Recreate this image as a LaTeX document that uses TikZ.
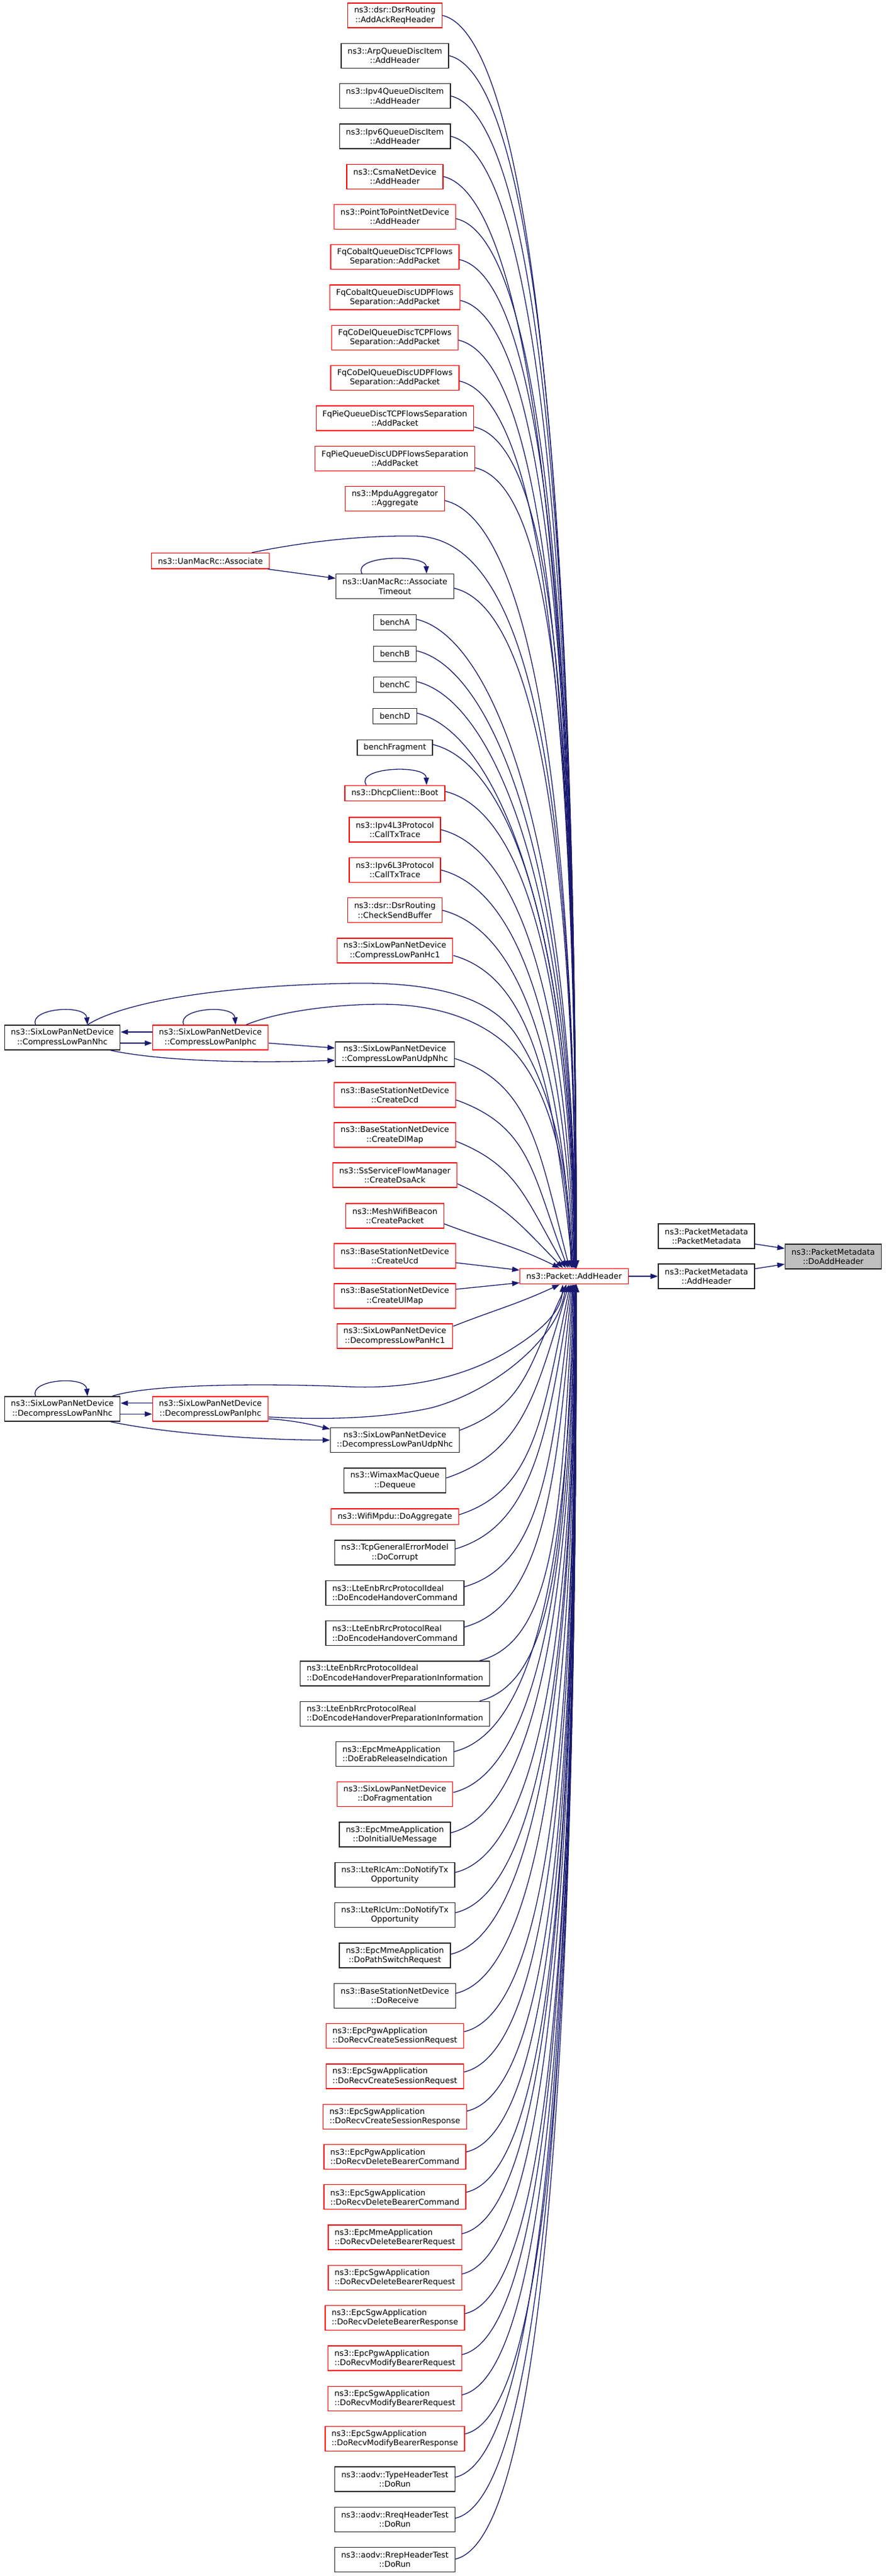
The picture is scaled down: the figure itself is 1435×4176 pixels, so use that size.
\documentclass[tikz,border=0pt]{standalone}
\usepackage{fontspec}
\setmainfont{DejaVu Sans}
\usetikzlibrary{arrows.meta,calc}
\definecolor{mblue}{HTML}{191970}
\definecolor{kcol}{HTML}{262626}
\definecolor{rcol}{HTML}{FF0000}
\definecolor{hfill}{HTML}{BFBFBF}
\tikzset{
 nd/.style={draw, line width=1.3pt, fill=white, inner xsep=10.5pt, inner ysep=0pt,
   minimum height=40pt, align=center, font=\fontsize{12.9}{15.2}\selectfont},
 rb/.style={nd, draw=rcol},
 kb/.style={nd, draw=kcol},
 oneln/.style={minimum height=25.5pt},
 lft/.style={align=left},
 cline/.style={draw=mblue, line width=1.3pt, -{Triangle[length=12pt,width=8.5pt]}},
}
% caller -> Packet::AddHeader ; #1 start anchor, #2 offset, #3 sign (1 above, -1 below), #4 target anchor
\newcommand\toPA[4]{%
\draw[cline] let \p1=($(#1)+(#2)$), \p2=(#4),
 \n1={abs(\y1-\y2)},
 \n2={\x2+58+34*(1-exp(-\n1/300))},
 \n3={veclen(\n2-\x1,\n1)},
 \n4={atan2(\n2-\x1,\n1)},
 \n5={min(90-\n4,13+20*exp(-\n1/250))},
 \n6={min(130,0.4*\n3)},
 \n7={min(\n4,95*exp(-\n1/180))},
 \n8={\n3*(0.4+0.3*(1-exp(-\n1/700)))}
 in (\p1) .. controls ({\x1+\n6*cos(\n5)*1pt},{\y1-(#3)*\n6*sin(\n5)*1pt})
 and ({\n2*1pt-\n8*sin(\n7)*1pt},{\y2+(#3)*\n8*cos(\n7)*1pt}) .. ({\n2*1pt},\y2);
}
\begin{document}
\begin{tikzpicture}[x=1pt,y=-1pt]
\useasboundingbox (0,0) rectangle (1435,4176);
\fill[white] (0,0) rectangle (1435,4176);

% middle column
\node[rb] (n1) at (640,25) {ns3::dsr::DsrRouting\\::AddAckReqHeader};
\node[kb] (n2) at (640,90.3) {ns3::ArpQueueDiscItem\\::AddHeader};
\node[kb] (n3) at (640,155.6) {ns3::Ipv4QueueDiscItem\\::AddHeader};
\node[kb] (n4) at (640,220.9) {ns3::Ipv6QueueDiscItem\\::AddHeader};
\node[rb] (n5) at (640,286.2) {ns3::CsmaNetDevice\\::AddHeader};
\node[rb] (n6) at (640,351.5) {ns3::PointToPointNetDevice\\::AddHeader};
\node[rb] (n7) at (640,416.8) {FqCobaltQueueDiscTCPFlows\\Separation::AddPacket};
\node[rb] (n8) at (640,482.1) {FqCobaltQueueDiscUDPFlows\\Separation::AddPacket};
\node[rb] (n9) at (640,547.4) {FqCoDelQueueDiscTCPFlows\\Separation::AddPacket};
\node[rb] (n10) at (640,612.7) {FqCoDelQueueDiscUDPFlows\\Separation::AddPacket};
\node[rb] (n11) at (640,678) {FqPieQueueDiscTCPFlowsSeparation\\::AddPacket};
\node[rb] (n12) at (640,743.3) {FqPieQueueDiscUDPFlowsSeparation\\::AddPacket};
\node[rb] (n13) at (640,808.6) {ns3::MpduAggregator\\::Aggregate};
\node[rb,oneln] (assoc) at (341,909.2) {ns3::UanMacRc::Associate};
\node[kb] (n14) at (640,950.6) {ns3::UanMacRc::Associate\\Timeout};
\node[kb,oneln] (n15) at (640,1009) {benchA};
\node[kb,oneln] (n16) at (640,1060) {benchB};
\node[kb,oneln] (n17) at (640,1110) {benchC};
\node[kb,oneln] (n18) at (640,1161) {benchD};
\node[kb,oneln] (n19) at (640,1212) {benchFragment};
\node[rb,oneln] (n20) at (640,1286) {ns3::DhcpClient::Boot};
\node[rb] (n21) at (640,1345) {ns3::Ipv4L3Protocol\\::CallTxTrace};
\node[rb] (n22) at (640,1410.3) {ns3::Ipv6L3Protocol\\::CallTxTrace};
\node[rb] (n23) at (640,1475.6) {ns3::dsr::DsrRouting\\::CheckSendBuffer};
\node[rb] (n24) at (640,1540.9) {ns3::SixLowPanNetDevice\\::CompressLowPanHc1};
\node[kb] (cnhc) at (101,1682) {ns3::SixLowPanNetDevice\\::CompressLowPanNhc};
\node[rb] (ciphc) at (341,1682) {ns3::SixLowPanNetDevice\\::CompressLowPanIphc};
\node[kb] (n25) at (640,1709) {ns3::SixLowPanNetDevice\\::CompressLowPanUdpNhc};
\node[rb] (n26) at (640,1775) {ns3::BaseStationNetDevice\\::CreateDcd};
\node[rb] (n27) at (640,1840) {ns3::BaseStationNetDevice\\::CreateDlMap};
\node[rb] (n28) at (640,1905) {ns3::SsServiceFlowManager\\::CreateDsaAck};
\node[rb] (n29) at (640,1971) {ns3::MeshWifiBeacon\\::CreatePacket};
\node[rb] (n30) at (640,2036) {ns3::BaseStationNetDevice\\::CreateUcd};
\node[rb] (n31) at (640,2101) {ns3::BaseStationNetDevice\\::CreateUlMap};
\node[rb] (n32) at (640,2166) {ns3::SixLowPanNetDevice\\::DecompressLowPanHc1};
\node[kb] (dnhc) at (101,2284) {ns3::SixLowPanNetDevice\\::DecompressLowPanNhc};
\node[rb] (diphc) at (341,2284) {ns3::SixLowPanNetDevice\\::DecompressLowPanIphc};
\node[kb] (n33) at (640,2334.6) {ns3::SixLowPanNetDevice\\::DecompressLowPanUdpNhc};
\node[kb] (n34) at (640,2400) {ns3::WimaxMacQueue\\::Dequeue};
\node[rb,oneln] (n35) at (640,2458.6) {ns3::WifiMpdu::DoAggregate};
\node[kb] (n36) at (640,2517) {ns3::TcpGeneralErrorModel\\::DoCorrupt};
\node[kb,lft] (n37) at (640,2582.3) {ns3::LteEnbRrcProtocolIdeal\\::DoEncodeHandoverCommand};
\node[kb,lft] (n38) at (640,2647.6) {ns3::LteEnbRrcProtocolReal\\::DoEncodeHandoverCommand};
\node[kb,lft] (n39) at (640,2712.9) {ns3::LteEnbRrcProtocolIdeal\\::DoEncodeHandoverPreparationInformation};
\node[kb,lft] (n40) at (640,2778.2) {ns3::LteEnbRrcProtocolReal\\::DoEncodeHandoverPreparationInformation};
\node[kb,lft] (n41) at (640,2843.5) {ns3::EpcMmeApplication\\::DoErabReleaseIndication};
\node[rb] (n42) at (640,2908.8) {ns3::SixLowPanNetDevice\\::DoFragmentation};
\node[kb] (n43) at (640,2974.1) {ns3::EpcMmeApplication\\::DoInitialUeMessage};
\node[kb] (n44) at (640,3039.4) {ns3::LteRlcAm::DoNotifyTx\\Opportunity};
\node[kb] (n45) at (640,3104.7) {ns3::LteRlcUm::DoNotifyTx\\Opportunity};
\node[kb] (n46) at (640,3170) {ns3::EpcMmeApplication\\::DoPathSwitchRequest};
\node[kb] (n47) at (640,3235.3) {ns3::BaseStationNetDevice\\::DoReceive};
\node[rb,lft] (n48) at (640,3300.6) {ns3::EpcPgwApplication\\::DoRecvCreateSessionRequest};
\node[rb,lft] (n49) at (640,3365.9) {ns3::EpcSgwApplication\\::DoRecvCreateSessionRequest};
\node[rb,lft] (n50) at (640,3431.2) {ns3::EpcSgwApplication\\::DoRecvCreateSessionResponse};
\node[rb,lft] (n51) at (640,3496.5) {ns3::EpcPgwApplication\\::DoRecvDeleteBearerCommand};
\node[rb,lft] (n52) at (640,3561.8) {ns3::EpcSgwApplication\\::DoRecvDeleteBearerCommand};
\node[rb,lft] (n53) at (640,3627.1) {ns3::EpcMmeApplication\\::DoRecvDeleteBearerRequest};
\node[rb,lft] (n54) at (640,3692.4) {ns3::EpcSgwApplication\\::DoRecvDeleteBearerRequest};
\node[rb,lft] (n55) at (640,3757.7) {ns3::EpcSgwApplication\\::DoRecvDeleteBearerResponse};
\node[rb,lft] (n56) at (640,3823) {ns3::EpcPgwApplication\\::DoRecvModifyBearerRequest};
\node[rb,lft] (n57) at (640,3888.3) {ns3::EpcSgwApplication\\::DoRecvModifyBearerRequest};
\node[rb,lft] (n58) at (640,3953.6) {ns3::EpcSgwApplication\\::DoRecvModifyBearerResponse};
\node[kb] (n59) at (640,4018.9) {ns3::aodv::TypeHeaderTest\\::DoRun};
\node[kb] (n60) at (640,4084.2) {ns3::aodv::RreqHeaderTest\\::DoRun};
\node[kb] (n61) at (640,4149.5) {ns3::aodv::RrepHeaderTest\\::DoRun};

% right part
\node[rb,oneln] (pa) at (930.5,2069) {ns3::Packet::AddHeader};
\node[kb] (pmc) at (1145,2004) {ns3::PacketMetadata\\::PacketMetadata};
\node[kb] (pma) at (1145,2069) {ns3::PacketMetadata\\::AddHeader};
\node[kb,fill=hfill] (dah) at (1350.5,2037) {ns3::PacketMetadata\\::DoAddHeader};

% edges to Packet::AddHeader from above
\toPA{n1.east}{0,0}{1}{pa.north west}
\toPA{n2.east}{0,0}{1}{pa.north west}
\toPA{n3.east}{0,0}{1}{pa.north west}
\toPA{n4.east}{0,0}{1}{pa.north west}
\toPA{n5.east}{0,0}{1}{pa.north west}
\toPA{n6.east}{0,3}{1}{pa.north west}
\toPA{n7.east}{0,4}{1}{pa.north west}
\toPA{n8.east}{0,5}{1}{pa.north west}
\toPA{n9.east}{0,4}{1}{pa.north west}
\toPA{n10.east}{0,5}{1}{pa.north west}
\toPA{n11.east}{0,14}{1}{pa.north west}
\toPA{n12.east}{0,15}{1}{pa.north west}
\toPA{n13.east}{0,3}{1}{pa.north west}
\toPA{n14.east}{0,3}{1}{pa.north west}
\toPA{n15.east}{0,-5}{1}{pa.north west}
\toPA{n16.east}{0,-5}{1}{pa.north west}
\toPA{n17.east}{0,-5}{1}{pa.north west}
\toPA{n18.east}{0,-5}{1}{pa.north west}
\toPA{n19.east}{0,-5}{1}{pa.north west}
\toPA{n20.east}{0,-3}{1}{pa.north west}
\toPA{n21.east}{0,0}{1}{pa.north west}
\toPA{n22.east}{0,0}{1}{pa.north west}
\toPA{n23.east}{0,0}{1}{pa.north west}
\toPA{n24.east}{0,8}{1}{pa.north west}
\toPA{n25.east}{0,7}{1}{pa.north west}
\toPA{n26.east}{0,8}{1}{pa.north west}
\toPA{n27.east}{0,10}{1}{pa.north west}
\toPA{n28.east}{0,14}{1}{pa.north west}
\toPA{n29.east}{0,13}{1}{pa.north west}
\draw[cline] ($(n30.east)+(0,11)$) -- ($(pa.west)+(0,-10)$);
\draw[cline] ($(n31.east)+(0,-11)$) -- ($(pa.west)+(0,10.5)$);
% edges from below
\toPA{n32.east}{0,-16}{-1}{pa.south west}
\toPA{n33.east}{0,-16}{-1}{pa.south west}
\toPA{n34.east}{0,-4}{-1}{pa.south west}
\toPA{n35.east}{0,-3}{-1}{pa.south west}
\toPA{n36.east}{0,-6}{-1}{pa.south west}
\toPA{n37.east}{0,-10}{-1}{pa.south west}
\toPA{n38.east}{0,-10}{-1}{pa.south west}
\toPA{n39.north east}{-17,0}{-1}{pa.south west}
\toPA{n40.north east}{-17,0}{-1}{pa.south west}
\toPA{n41.east}{0,-4}{-1}{pa.south west}
\toPA{n42.east}{0,-3}{-1}{pa.south west}
\toPA{n43.east}{0,-3}{-1}{pa.south west}
\toPA{n44.east}{0,-4}{-1}{pa.south west}
\toPA{n45.east}{0,-4}{-1}{pa.south west}
\toPA{n46.east}{0,-2}{-1}{pa.south west}
\toPA{n47.east}{0,-4}{-1}{pa.south west}
\toPA{n48.east}{0,-7}{-1}{pa.south west}
\toPA{n49.east}{0,-7}{-1}{pa.south west}
\toPA{n50.east}{0,-9}{-1}{pa.south west}
\toPA{n51.east}{0,-8}{-1}{pa.south west}
\toPA{n52.east}{0,-8}{-1}{pa.south west}
\toPA{n53.east}{0,-6}{-1}{pa.south west}
\toPA{n54.east}{0,-6}{-1}{pa.south west}
\toPA{n55.east}{0,-7}{-1}{pa.south west}
\toPA{n56.east}{0,-6}{-1}{pa.south west}
\toPA{n57.east}{0,-6}{-1}{pa.south west}
\toPA{n58.east}{0,-8}{-1}{pa.south west}
\toPA{n59.east}{0,-3}{-1}{pa.south west}
\toPA{n60.east}{0,-2}{-1}{pa.south west}
\toPA{n61.east}{0,-1}{-1}{pa.south west}

% left-column special edges
\draw[cline] ($(assoc.south east)+(-3,0)$) -- ($(n14.west)+(0,-13)$);
\draw[cline] ($(assoc.north east)+(-29,0)$) .. controls (500,877) and (590,868) .. (672,869)
  .. controls (830,870) and (931,1150) .. ($(pa.north west)+(91,0)$);
\draw[cline] ($(n14.north west)+(42.8,0)$) .. controls +(-16.5,-30) and +(-1,-32) .. ($(n14.north east)+(-44.8,0)$);
\draw[cline] ($(n20.north west)+(35.3,0)$) .. controls +(-19,-29) and +(-1,-34) .. ($(n20.north east)+(-30.3,0)$);

% compress group
\draw[cline] ($(cnhc.north west)+(51.3,0)$) .. controls +(-12,-27) and +(-3,-34) .. ($(cnhc.north east)+(-53.7,0)$);
\draw[cline] ($(ciphc.north west)+(51.3,0)$) .. controls +(-12,-27) and +(-3,-34) .. ($(ciphc.north east)+(-53.7,0)$);
\draw[cline] ($(ciphc.west)+(0,-9)$) -- ($(cnhc.east)+(0,-9)$);
\draw[cline] ($(cnhc.east)+(0,9)$) -- ($(ciphc.west)+(0,9)$);
\draw[cline] ($(ciphc.east)+(0,9)$) -- ($(n25.west)+(0,-10)$);
\draw[cline] ($(cnhc.south east)+(-16.7,0)$) .. controls (260,1720) and (400,1724) .. ($(n25.west)+(0,10)$);
\draw[cline] ($(cnhc.north east)+(-53.7,0)$) .. controls (190,1630) and (330,1598) .. (572,1594)
  .. controls (720,1592) and (800,1622) .. (838,1680)
  .. controls (878,1742) and (922,1850) .. ($(pa.north west)+(85,0)$);
\draw[cline] ($(ciphc.north east)+(-36.7,0)$) .. controls (450,1640) and (540,1628) .. (618,1628)
  .. controls (720,1628) and (790,1660) .. (832,1704)
  .. controls (875,1750) and (920,1850) .. ($(pa.north west)+(83.5,0)$);

% decompress group
\draw[cline] ($(dnhc.north west)+(51.3,0)$) .. controls +(-12,-27) and +(-3,-34) .. ($(dnhc.north east)+(-53.7,0)$);
\draw[cline] ($(diphc.west)+(0,-9.3)$) -- ($(dnhc.east)+(0,-9.3)$);
\draw[cline] ($(dnhc.east)+(0,8.3)$) -- ($(diphc.west)+(0,8.3)$);
\draw[cline] ($(diphc.east)+(0,16)$) .. controls +(45,3) and +(-25,-6) .. ($(n33.west)+(0,-18)$);
\draw[cline] ($(dnhc.south east)+(-16.7,0)$) .. controls (260,2322) and (400,2334) .. (n33.west);
\draw[cline] ($(dnhc.north east)+(-13.7,0)$) .. controls (240,2244) and (420,2242) .. (565,2248)
  .. controls (680,2253) and (770,2225) .. (832,2185)
  .. controls (880,2155) and (910,2125) .. ($(pa.south west)+(70,0)$);
\draw[cline] ($(diphc.east)+(0,13)$) .. controls (520,2302) and (620,2300) .. (700,2282)
  .. controls (800,2255) and (905,2170) .. ($(pa.south west)+(75,0)$);

% right edges
\draw[cline] (pa.east) -- (pma.west);
\draw[cline] ($(pmc.east)+(0,12.7)$) -- ($(dah.west)+(0,-13)$);
\draw[cline] ($(pma.east)+(0,-12.3)$) -- ($(dah.west)+(0,12.3)$);
\end{tikzpicture}
\end{document}
